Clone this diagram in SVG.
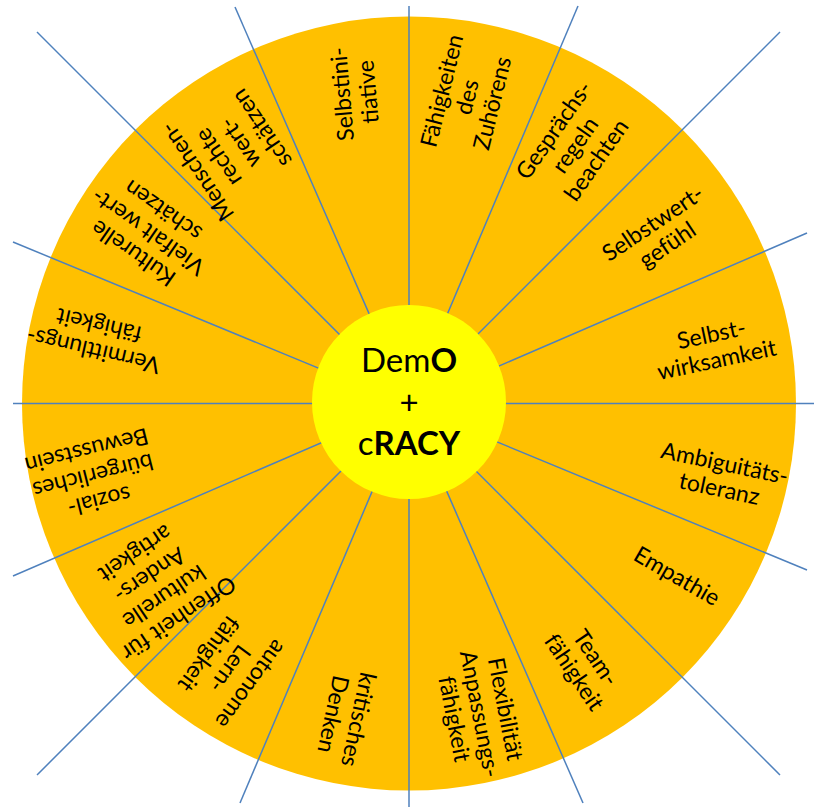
<svg xmlns="http://www.w3.org/2000/svg" width="814" height="807" viewBox="0 0 814 807">
<style>
.lbl{font-family:Lato,"Liberation Sans",sans-serif;font-size:23px;fill:#000;text-anchor:middle}
.ctr{font-family:Lato,"Liberation Sans",sans-serif;font-size:33px;fill:#000;text-anchor:middle}
.ray{stroke:#4F81BD;stroke-width:1.5;fill:none}
</style>
<rect width="814" height="807" fill="#fff"/>
<circle id="wheel" cx="409" cy="403.5" r="387" fill="#FFC000"/>
<g id="connectors" class="ray">
<line x1="409" y1="6" x2="409" y2="807"/>
<line x1="13" y1="403.5" x2="814" y2="403.5"/>
<line x1="235" y1="7" x2="583" y2="803"/>
<line x1="578" y1="6" x2="240" y2="803"/>
<line x1="37" y1="32" x2="780" y2="775"/>
<line x1="780" y1="32" x2="37" y2="775"/>
<line x1="13" y1="242" x2="807" y2="570"/>
<line x1="807" y1="233" x2="13" y2="576"/>
</g>
<g id="center">
<circle cx="409" cy="402" r="97" fill="#FFFF00"/>
<text class="ctr" x="409" y="372">Dem<tspan font-weight="bold">O</tspan></text>
<text class="ctr" x="409" y="414">+</text>
<text class="ctr" x="409" y="455">c<tspan font-weight="bold">RACY</tspan></text>
</g>
<g id="s1" transform="translate(355 93) rotate(-95)"><text class="lbl"><tspan x="0" y="-5">Selbstini-</tspan><tspan x="0" y="21">tiative</tspan></text></g>
<g id="s2" transform="translate(467 97) rotate(-76)"><text class="lbl"><tspan x="0" y="-18">Fähigkeiten</tspan><tspan x="0" y="8">des</tspan><tspan x="0" y="34">Zuhörens</tspan></text></g>
<g id="s3" transform="translate(575 145) rotate(-55)"><text class="lbl"><tspan x="0" y="-18">Gesprächs-</tspan><tspan x="0" y="8">regeln</tspan><tspan x="0" y="34">beachten</tspan></text></g>
<g id="s4" transform="translate(660 234) rotate(-34)"><text class="lbl"><tspan x="0" y="-5">Selbstwert-</tspan><tspan x="0" y="21">gefühl</tspan></text></g>
<g id="s5" transform="translate(714 347) rotate(-12)"><text class="lbl"><tspan x="0" y="-5">Selbst-</tspan><tspan x="0" y="21">wirksamkeit</tspan></text></g>
<g id="s6" transform="translate(722 476) rotate(12)"><text class="lbl"><tspan x="0" y="-5">Ambiguitäts-</tspan><tspan x="0" y="21">toleranz</tspan></text></g>
<g id="s7" transform="translate(677 576) rotate(30)"><text class="lbl"><tspan x="0" y="8">Empathie</tspan></text></g>
<g id="s8" transform="translate(585 665) rotate(56)"><text class="lbl"><tspan x="0" y="-5">Team-</tspan><tspan x="0" y="21">fähigkeit</tspan></text></g>
<g id="s9" transform="translate(480 714) rotate(79)"><text class="lbl"><tspan x="0" y="-18">Flexibilität</tspan><tspan x="0" y="8">Anpassungs-</tspan><tspan x="0" y="34">fähigkeit</tspan></text></g>
<g id="s10" transform="translate(346 717) rotate(102)"><text class="lbl"><tspan x="0" y="-5">kritisches</tspan><tspan x="0" y="21">Denken</tspan></text></g>
<g id="s11" transform="translate(230 669) rotate(126)"><text class="lbl"><tspan x="0" y="-18">autonome</tspan><tspan x="0" y="8">Lern-</tspan><tspan x="0" y="34">fähigkeit</tspan></text></g>
<g id="s12" transform="translate(157 586) rotate(146)"><text class="lbl"><tspan x="0" y="-31">Offenheit für</tspan><tspan x="0" y="-5">kulturelle</tspan><tspan x="0" y="21">Anders-</tspan><tspan x="0" y="47">artigkeit</tspan></text></g>
<g id="s13" transform="translate(93 476) rotate(166)"><text class="lbl"><tspan x="0" y="-18">sozial-</tspan><tspan x="0" y="8">bürgerliches</tspan><tspan x="0" y="34">Bewusstsein</tspan></text></g>
<g id="s14" transform="translate(96 338) rotate(-167)"><text class="lbl"><tspan x="0" y="-5">Vermittlungs-</tspan><tspan x="0" y="21">fähigkeit</tspan></text></g>
<g id="s15" transform="translate(148 232) rotate(-145)"><text class="lbl"><tspan x="0" y="-18">Kulturelle</tspan><tspan x="0" y="8">Vielfalt wert-</tspan><tspan x="0" y="34">schätzen</tspan></text></g>
<g id="s16" transform="translate(229 150) rotate(-124)"><text class="lbl"><tspan x="0" y="-31">Menschen-</tspan><tspan x="0" y="-5">rechte</tspan><tspan x="0" y="21">wert-</tspan><tspan x="0" y="47">schätzen</tspan></text></g>
</svg>
